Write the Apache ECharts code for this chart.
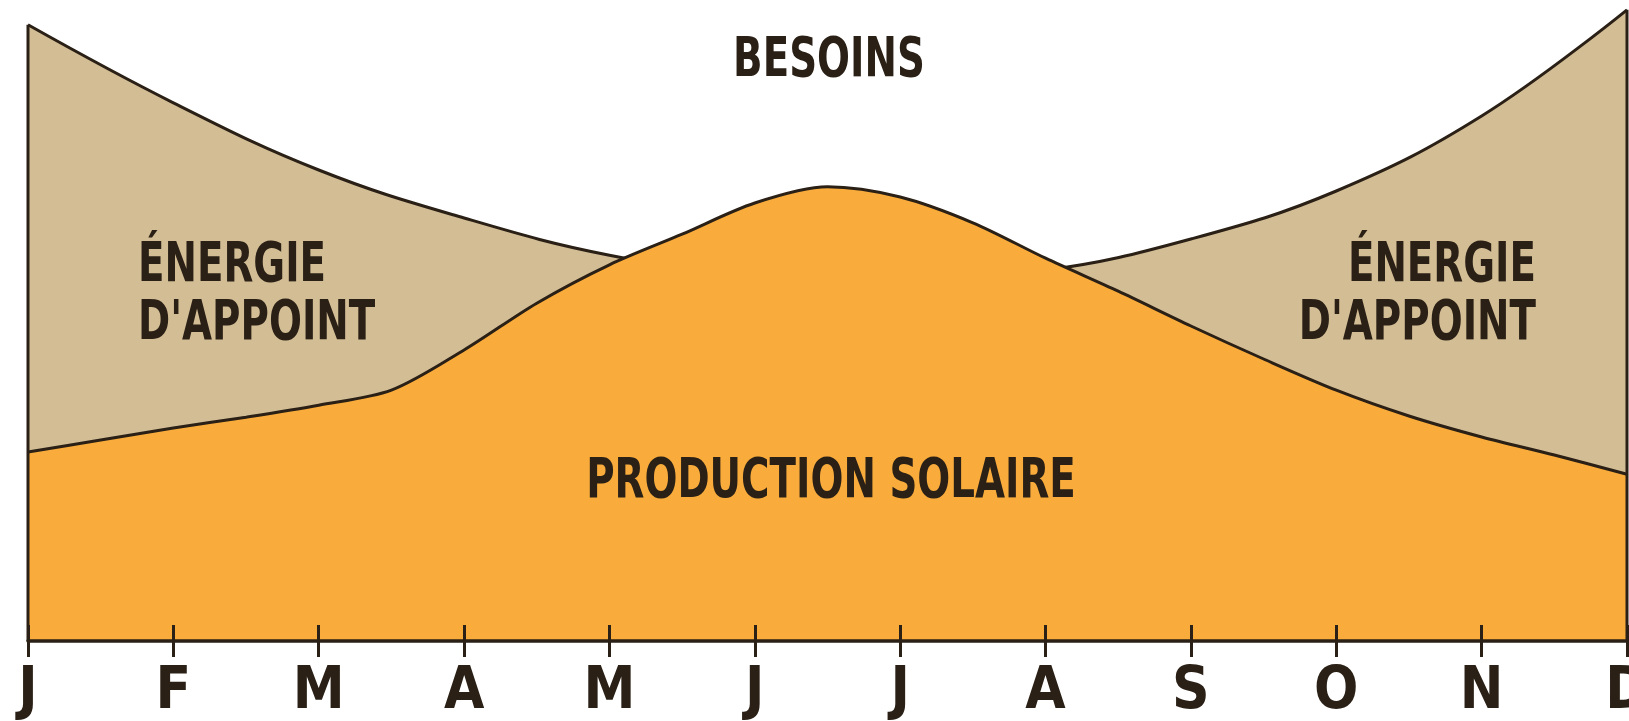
<!DOCTYPE html>
<html>
<head>
<meta charset="utf-8">
<script src="https://cdn.jsdelivr.net/npm/echarts@6/dist/echarts.min.js"></script>
<style>
html,body{margin:0;padding:0;background:#fff;}
#chart{width:1629px;height:721px;}
</style>
</head>
<body>
<div id="chart"></div>
<script>
// Month tick labels
const months = ['J','F','M','A','M','J','J','A','S','O','N','D'];
// Besoins (needs) at each month tick
const besoinsX = [0,1,2,3,4,5,6,7,8,9,10,11];
const besoins  = [102.7, 89.7, 78.5, 70.5, 64.3, 61, 60.5, 61.8, 67, 75, 87.5, 105.2];
// Production solaire at half-month positions
const solaireX = [0,0.5,1,1.5,2,2.5,3,3.5,4,4.5,5,5.5,6,6.5,7,7.5,8,8.5,9,9.5,10,10.5,11];
const solaire  = [31.5,33.5,35.5,37.3,39.3,41.8,48.5,56.3,62.7,67.8,73,75.7,74,69.7,63.8,58.3,52.5,47,41.8,37.5,34,31,27.8];

const FONT = '"Liberation Sans Narrow","DejaVu Sans Condensed","Roboto",sans-serif';
const INK = '#2a2016';
const TAN = '#d3bd95';
const ORANGE = '#f9ac3b';

const pairs = (xs, ys) => xs.map((x, i) => [x, ys[i]]);
const last = months.length - 1;

function label(text, x, y, align) {
  return {
    type: 'text', x: x, y: y, scaleX: 0.77, z: 10,
    style: {text: text, font: 'bold 56px ' + FONT, fill: INK, align: align, verticalAlign: 'top'}
  };
}

const chart = echarts.init(document.getElementById('chart'));
chart.setOption({
  animation: false,
  grid: {left: 28, right: 2, top: 5, bottom: 80, containLabel: false, outerBoundsMode: 'none'},
  xAxis: [{
    type: 'value', min: 0, max: last, interval: 1, position: 'bottom', offset: 0, z: 5,
    axisLine: {show: true, lineStyle: {color: INK, width: 3.5}},
    axisTick: {show: true, inside: false, length: 16, lineStyle: {color: INK, width: 3}},
    axisLabel: {
      show: true, margin: 23, showMinLabel: true, showMaxLabel: true, hideOverlap: false,
      formatter: v => months[v] || '',
      fontFamily: FONT, fontWeight: 'bold', fontSize: 58, color: INK
    },
    splitLine: {show: false}
  }, {
    type: 'value', min: 0, max: last, interval: 1, position: 'bottom', offset: 0, z: 5,
    axisLine: {show: false},
    axisTick: {show: true, inside: true, length: 16, lineStyle: {color: INK, width: 3}},
    axisLabel: {show: false},
    splitLine: {show: false}
  }],
  yAxis: {
    type: 'value', min: 0, max: 106,
    axisLine: {show: false}, axisTick: {show: false}, axisLabel: {show: false}, splitLine: {show: false}
  },
  series: [{
    name: 'Besoins', type: 'line', smooth: 0.4, symbol: 'none', z: 2,
    data: pairs(besoinsX, besoins),
    lineStyle: {color: INK, width: 3},
    areaStyle: {color: TAN, opacity: 1}
  }, {
    name: 'Production solaire', type: 'line', smooth: 0.3, symbol: 'none', z: 3,
    data: pairs(solaireX, solaire),
    lineStyle: {color: INK, width: 3},
    areaStyle: {color: ORANGE, opacity: 1}
  }, {
    name: 'bord gauche', type: 'line', symbol: 'none', z: 4,
    data: [[0, 0], [0, besoins[0]]],
    lineStyle: {color: INK, width: 3}
  }, {
    name: 'bord droit', type: 'line', symbol: 'none', z: 4,
    data: [[last, 0], [last, besoins[last]]],
    lineStyle: {color: INK, width: 3}
  }],
  graphic: [
    label('BESOINS', 829, 33, 'center'),
    label('ÉNERGIE', 138, 238, 'left'),
    label('D\'APPOINT', 138, 296, 'left'),
    label('ÉNERGIE', 1536, 238, 'right'),
    label('D\'APPOINT', 1536, 296, 'right'),
    label('PRODUCTION SOLAIRE', 831, 454, 'center')
  ]
});
</script>
</body>
</html>
